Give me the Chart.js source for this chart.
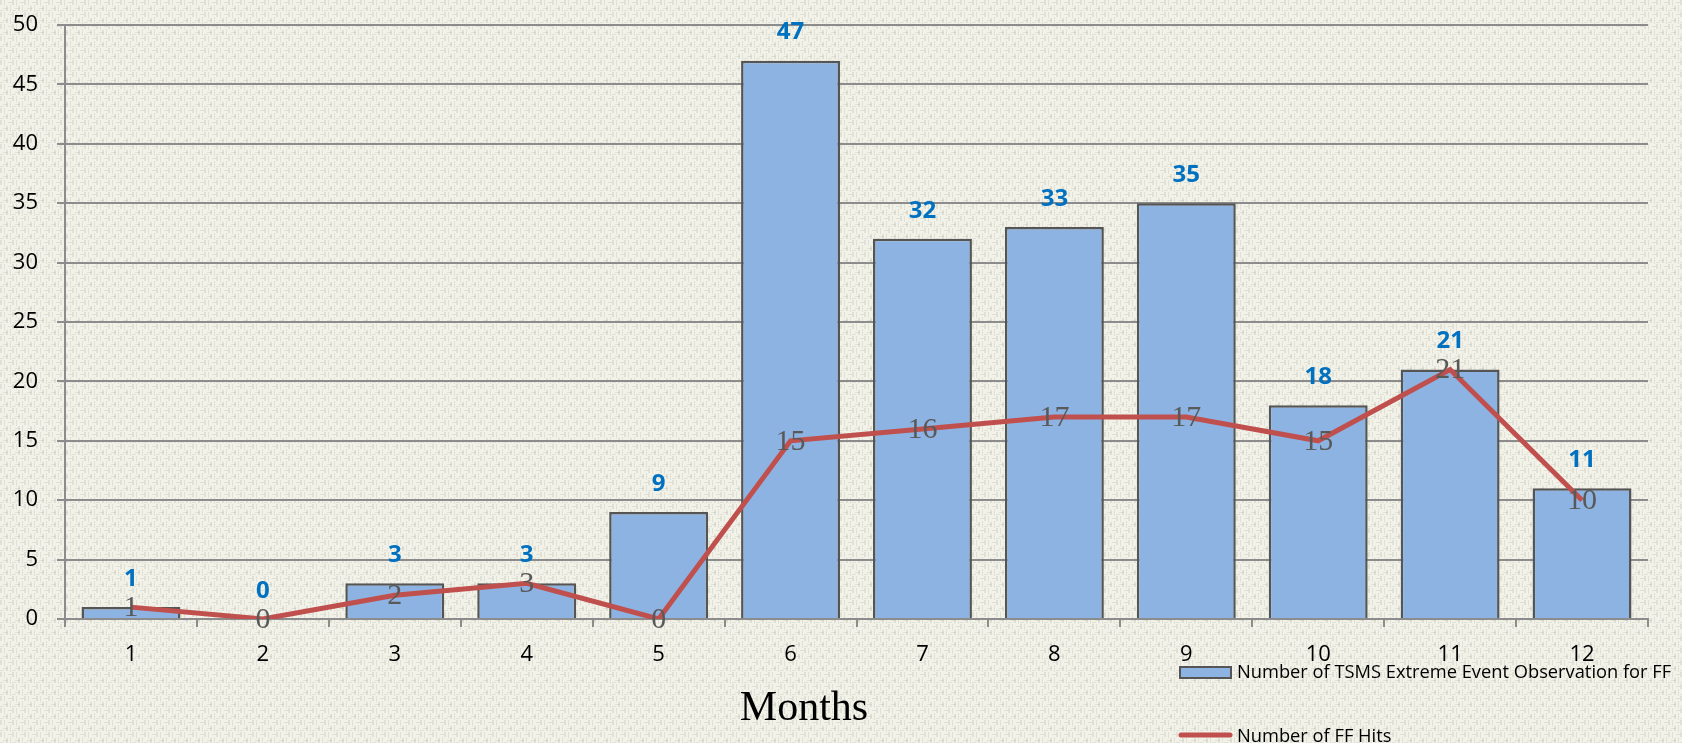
<!DOCTYPE html>
<html>
<head>
<meta charset="utf-8">
<script src="https://cdn.jsdelivr.net/npm/chart.js@4/dist/chart.umd.min.js"></script>
<style>
  html, body { margin: 0; padding: 0; background: #F0F0E6; }
  #wrap { width: 1682px; height: 743px; position: relative; }
</style>
</head>
<body>
<div id="wrap"><canvas id="c" width="1682" height="743"></canvas></div>
<script>
const months = ['1','2','3','4','5','6','7','8','9','10','11','12'];
const observations = [1, 0, 3, 3, 9, 47, 32, 33, 35, 18, 21, 11];
const hits = [1, 0, 2, 3, 0, 15, 16, 17, 17, 15, 21, 10];
const yTicks = [0, 5, 10, 15, 20, 25, 30, 35, 40, 45, 50];
const seriesNames = ['Number of TSMS Extreme Event Observation for FF', 'Number of FF Hits'];
const xTitle = 'Months';

const BAR_FILL = '#8DB3E2';
const BAR_EDGE = '#555555';
const LINE_COL = '#C0504D';
const GRID_COL = '#8C8C8C';

function makeTexture() {
  const c = document.createElement('canvas');
  c.width = 12; c.height = 12;
  const g = c.getContext('2d');
  g.fillStyle = '#F2F2E9';
  g.fillRect(0, 0, 12, 12);
  g.fillStyle = 'rgba(196,198,184,0.4)';
  g.fillRect(0, 0, 2, 5); g.fillRect(6, 6, 2, 5);
  g.fillRect(3, 8, 5, 1); g.fillRect(8, 2, 4, 1);
  g.fillStyle = 'rgba(186,188,174,0.3)';
  g.fillRect(4, 0, 1, 6); g.fillRect(10, 5, 1, 7);
  g.fillRect(0, 10, 4, 1);
  return c;
}

const bgPlugin = {
  id: 'bg',
  beforeDraw(chart) {
    const ctx = chart.ctx;
    ctx.save();
    ctx.fillStyle = ctx.createPattern(makeTexture(), 'repeat');
    ctx.fillRect(0, 0, chart.width, chart.height);
    ctx.restore();
  }
};

const labelPlugin = {
  id: 'valueLabels',
  afterDatasetsDraw(chart) {
    const ctx = chart.ctx;
    const barMeta = chart.getDatasetMeta(0);
    const lineMeta = chart.getDatasetMeta(1);
    ctx.save();
    ctx.textAlign = 'center';
    ctx.textBaseline = 'middle';
    ctx.font = 'bold 24px "Open Sans"';
    ctx.fillStyle = '#0070C0';
    barMeta.data.forEach((el, i) => {
      ctx.fillText(String(observations[i]), el.x, el.y - 28);
    });
    ctx.font = '30px "Liberation Serif"';
    ctx.fillStyle = '#595959';
    lineMeta.data.forEach((el, i) => {
      ctx.fillText(String(hits[i]), el.x, el.y + 1);
    });
    ctx.restore();
  },
  afterDraw(chart) {
    const ctx = chart.ctx;
    ctx.save();
    ctx.font = '42px "Liberation Serif"';
    ctx.fillStyle = '#000';
    ctx.textAlign = 'center';
    ctx.textBaseline = 'alphabetic';
    ctx.fillText(xTitle, 804, 720);
    ctx.font = '18.3px "Open Sans"';
    ctx.textAlign = 'left';
    ctx.textBaseline = 'middle';
    ctx.fillStyle = BAR_FILL;
    ctx.fillRect(1180, 667, 51, 11);
    ctx.strokeStyle = BAR_EDGE;
    ctx.lineWidth = 2;
    ctx.strokeRect(1180, 667, 51, 11);
    ctx.fillStyle = '#000';
    ctx.fillText(seriesNames[0], 1237, 673);
    ctx.strokeStyle = LINE_COL;
    ctx.lineWidth = 5;
    ctx.lineCap = 'round';
    ctx.beginPath();
    ctx.moveTo(1181, 735);
    ctx.lineTo(1230, 735);
    ctx.stroke();
    ctx.fillText(seriesNames[1], 1237, 737);
    ctx.restore();
  }
};

new Chart(document.getElementById('c'), {
  type: 'bar',
  data: {
    labels: months,
    datasets: [
      {
        type: 'bar',
        label: seriesNames[0],
        data: observations,
        backgroundColor: BAR_FILL,
        borderColor: BAR_EDGE,
        borderWidth: 2.5,
        barPercentage: 0.75,
        categoryPercentage: 1.0,
        order: 2
      },
      {
        type: 'line',
        label: seriesNames[1],
        data: hits,
        borderColor: LINE_COL,
        borderWidth: 5,
        pointRadius: 0,
        tension: 0,
        fill: false,
        order: 1
      }
    ]
  },
  options: {
    responsive: false,
    animation: false,
    devicePixelRatio: 1,
    layout: { padding: { top: 25, right: 34, left: 0, bottom: 0 } },
    plugins: {
      legend: { display: false },
      tooltip: { enabled: false },
      title: { display: false }
    },
    scales: {
      x: {
        offset: true,
        grid: {
          display: true,
          offset: true,
          drawOnChartArea: false,
          drawTicks: true,
          tickLength: 8,
          color: GRID_COL,
          lineWidth: 2
        },
        border: { display: true, color: GRID_COL, width: 2 },
        ticks: {
          color: '#000',
          font: { family: '"Open Sans"', size: 22 },
          padding: 15,
          maxRotation: 0,
          autoSkip: false
        },
        afterFit(scale) { scale.height = 124; scale.paddingLeft = 0; scale.paddingRight = 0; }
      },
      y: {
        min: 0,
        max: 50,
        afterBuildTicks(scale) { scale.ticks = yTicks.map(v => ({ value: v })); },
        grid: {
          color: GRID_COL,
          lineWidth: 2,
          drawTicks: true,
          tickLength: 8
        },
        border: { display: true, color: GRID_COL, width: 2 },
        ticks: {
          color: '#000',
          font: { family: '"Open Sans"', size: 22 },
          padding: 19
        },
        afterFit(scale) { scale.width = 65; scale.paddingTop = 0; scale.paddingBottom = 0; }
      }
    }
  },
  plugins: [bgPlugin, labelPlugin]
});
</script>
</body>
</html>
